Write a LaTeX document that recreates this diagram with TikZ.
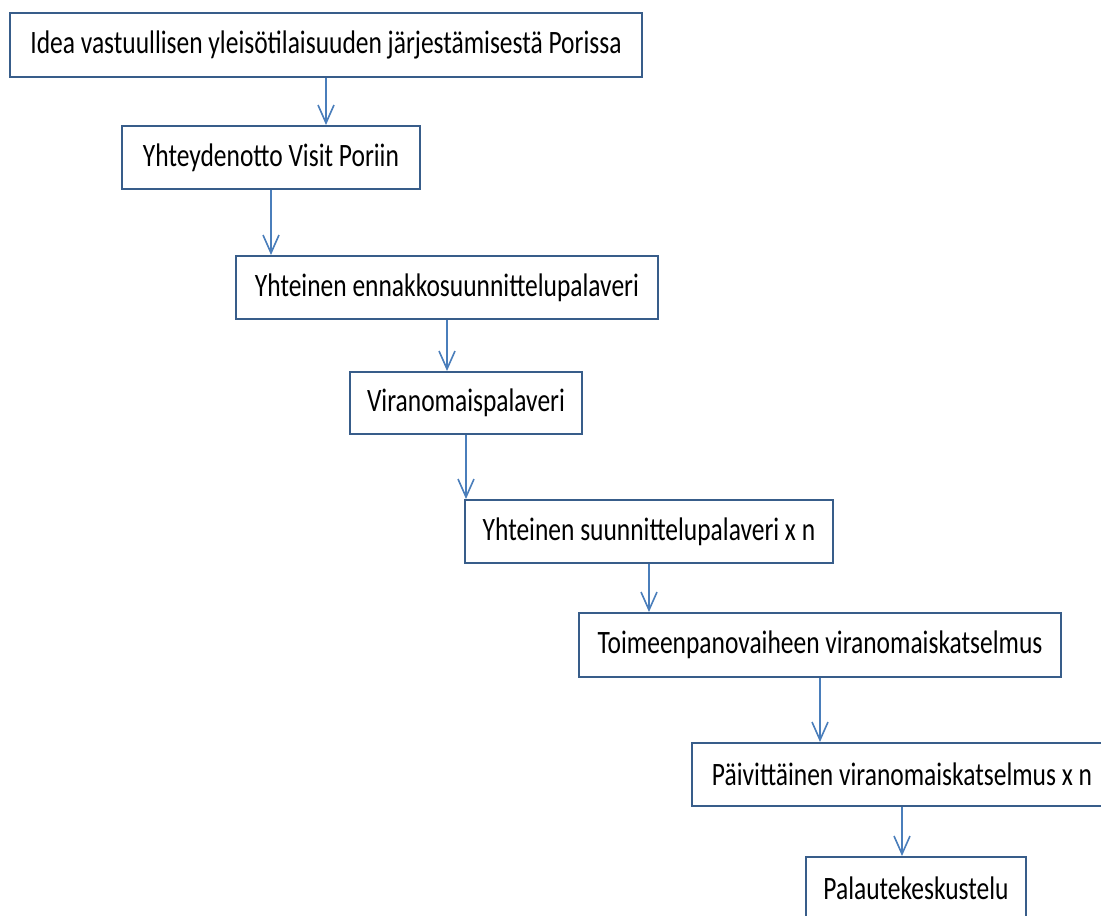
\documentclass[tikz,border=0pt]{standalone}
\usepackage{fontspec}
\setmainfont{Carlito}
\usetikzlibrary{arrows.meta}
\newdimen\pxunit
\pxunit=0.75pt
\definecolor{boxline}{HTML}{385D8A}
\definecolor{arrline}{HTML}{4A7EBB}
\tikzset{
  stepbox/.style={draw=boxline, line width=1.5pt, fill=white, rectangle,
    minimum height=63\pxunit, inner sep=0pt,
    font=\fontsize{24.5}{29}\selectfont, text=black},
  flow/.style={draw=arrline, line width=1.2pt,
    -{Straight Barb[length=13.5pt,width=12pt,line width=1.2pt]}}
}
\newcommand{\sq}[1]{\scalebox{0.78}[1]{#1}}
\begin{document}
\begin{tikzpicture}[x=0.75pt,y=-0.75pt]
\useasboundingbox (0,0) rectangle (1101,916);
\clip (0,0) rectangle (1101,916);
\fill[white] (0,0) rectangle (1101,916);
\node[stepbox, minimum width=632\pxunit, minimum height=64\pxunit] (b1) at (326,45) {\sq{Idea vastuullisen yleisötilaisuuden järjestämisestä Porissa}};
\node[stepbox, minimum width=298\pxunit] (b2) at (271,157.5) {\sq{Yhteydenotto Visit Poriin}};
\node[stepbox, minimum width=422\pxunit] (b3) at (447,287.5) {\sq{Yhteinen ennakkosuunnittelupalaveri}};
\node[stepbox, minimum width=232\pxunit, minimum height=62\pxunit] (b4) at (466,403) {\sq{Viranomaispalaveri}};
\node[stepbox, minimum width=368\pxunit] (b5) at (649,531.5) {\sq{Yhteinen suunnittelupalaveri x n}};
\node[stepbox, minimum width=482\pxunit, minimum height=64\pxunit] (b6) at (820,645) {\sq{Toimeenpanovaiheen viranomaiskatselmus}};
\node[stepbox, minimum width=420\pxunit] (b7) at (902,774.5) {\sq{Päivittäinen viranomaiskatselmus x n}};
\node[stepbox, minimum width=220\pxunit] (b8) at (916,888.5) {\sq{Palautekeskustelu}};
\draw[flow] (b1.south) -- (b1.south |- b2.north);
\draw[flow] (b2.south) -- (b2.south |- b3.north);
\draw[flow] (b3.south) -- (b3.south |- b4.north);
\draw[flow] (b4.south) -- (b4.south |- b5.north);
\draw[flow] (b5.south) -- (b5.south |- b6.north);
\draw[flow] (b6.south) -- (b6.south |- b7.north);
\draw[flow] (b7.south) -- (b7.south |- b8.north);
\end{tikzpicture}
\end{document}
